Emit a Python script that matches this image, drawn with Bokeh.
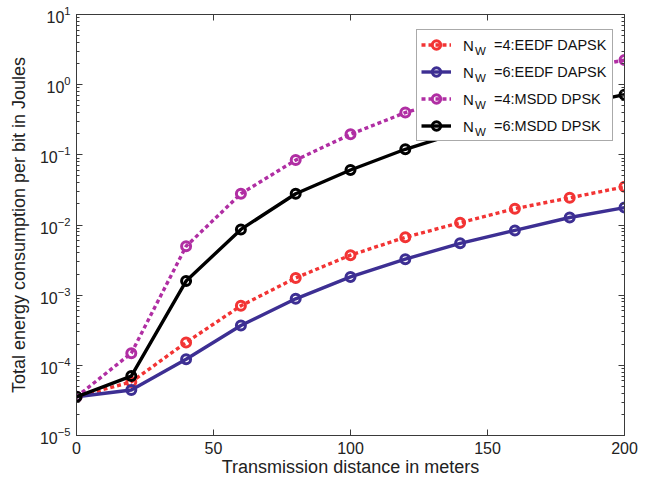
from bokeh.plotting import figure
from bokeh.models import (Range1d, LogAxis, LinearAxis, FixedTicker, Legend, LegendItem,
                          CustomJSTickFormatter)
from bokeh.embed import file_html
from bokeh.resources import INLINE

# ---------------- data ----------------
distance = [0, 20, 40, 60, 80, 100, 120, 140, 160, 180, 200]
eedf_nw4 = [3.56e-5, 5.8e-5, 2.12e-4, 7.06e-4, 1.76e-3, 3.72e-3, 6.67e-3, 1.08e-2, 1.71e-2, 2.44e-2, 3.5e-2]
eedf_nw6 = [3.56e-5, 4.46e-5, 1.22e-4, 3.69e-4, 8.87e-4, 1.82e-3, 3.26e-3, 5.48e-3, 8.36e-3, 1.28e-2, 1.77e-2]
msdd_nw4 = [3.56e-5, 1.49e-4, 4.98e-3, 2.79e-2, 8.41e-2, 0.196, 0.40, 0.68, 1.08, 1.6, 2.24]
msdd_nw6 = [3.56e-5, 7.03e-5, 1.59e-3, 8.65e-3, 2.79e-2, 6.08e-2, 0.120, 0.21, 0.33, 0.50, 0.72]

series_n = ["N", "N", "N", "N"]
series_sub = ["W", "W", "W", "W"]
series_rest = ["=4:EEDF DAPSK", "=6:EEDF DAPSK", "=4:MSDD DPSK", "=6:MSDD DPSK"]

x_ticks = [0, 50, 100, 150, 200]
y_major = [1e-5, 1e-4, 1e-3, 1e-2, 1e-1, 1e0, 1e1]
y_minor = [m * 10.0 ** e for e in range(-5, 1) for m in range(2, 10)]

FONT = "Liberation Sans"
AXC = "#3a3a3a"

W, H = 638, 479
BL, BR, BT, BB = 76, 14, 14, 44
p = figure(width=W, height=H, output_backend="svg", toolbar_location=None,
           x_range=Range1d(0, 200), y_range=Range1d(1e-5, 10), y_axis_type="log",
           min_border_left=BL, min_border_right=BR, min_border_top=BT, min_border_bottom=BB)
p.xgrid.visible = False
p.ygrid.visible = False
p.outline_line_color = AXC
p.outline_line_width = 1
p.background_fill_color = "white"
p.border_fill_color = "white"

def style_axis(ax, labels=True):
    ax.axis_line_color = AXC
    ax.major_tick_line_color = AXC
    ax.minor_tick_line_color = AXC
    ax.major_tick_in = 6
    ax.major_tick_out = 0
    ax.minor_tick_in = 3
    ax.minor_tick_out = 0
    if labels:
        ax.major_label_text_font = FONT
        ax.major_label_text_font_size = "16px"
        ax.major_label_text_color = "#222222"
        ax.axis_label_text_font = FONT
        ax.axis_label_text_font_style = "normal"
        ax.axis_label_text_font_size = "18px"
        ax.axis_label_text_color = "#222222"
    else:
        ax.formatter = CustomJSTickFormatter(code="return ''")
        ax.major_label_standoff = 0

p.xaxis.ticker = FixedTicker(ticks=x_ticks)
p.yaxis.ticker = FixedTicker(ticks=y_major, minor_ticks=y_minor)
style_axis(p.xaxis[0])
style_axis(p.yaxis[0])
p.xaxis.axis_label = "Transmission distance in meters"
p.yaxis.axis_label = "Total energy consumption per bit in Joules"
p.xaxis.major_label_standoff = 6
p.xaxis.axis_label_standoff = 0
p.yaxis.major_label_standoff = 6
p.yaxis.axis_label_standoff = 8

top = LinearAxis(ticker=FixedTicker(ticks=x_ticks))
style_axis(top, labels=False)
p.add_layout(top, "above")
right = LogAxis(ticker=FixedTicker(ticks=y_major, minor_ticks=y_minor))
style_axis(right, labels=False)
p.add_layout(right, "right")

specs = [
    (eedf_nw4, "#f23434", "4 3"),
    (eedf_nw6, "#3d2f93", "solid"),
    (msdd_nw4, "#b02ea3", "4 3"),
    (msdd_nw6, "#000000", "solid"),
]
items = []
for (vals, col, dash), rest in zip(specs, series_rest):
    ln = p.line(distance, vals, line_color=col, line_width=3.4, line_dash=dash)
    sc = p.scatter(distance, vals, marker="circle", size=9, fill_color=None,
                   line_color=col, line_width=3)
    items.append(LegendItem(label=rest, renderers=[ln, sc]))

# invisible renderer used only to carry the text-only legend columns
ghost = p.line(distance, eedf_nw4, line_alpha=0)

frame_h = H - BT - BB
legend = Legend(items=items, location=(340, frame_h - 17 - 110), orientation="vertical",
                padding=4, spacing=6, margin=0, glyph_width=30, glyph_height=21,
                label_height=21, label_width=114, label_standoff=43,
                label_text_font=FONT, label_text_font_size="14.5px",
                label_text_color="#111111",
                border_line_color="#555555", border_line_width=1,
                background_fill_color="white", background_fill_alpha=1.0)
p.add_layout(legend, "center")

def text_column(texts, x, y_top, size):
    lg = Legend(items=[LegendItem(label=t, renderers=[ghost]) for t in texts],
                location=(x, frame_h - y_top - 102), orientation="vertical",
                padding=0, spacing=6, margin=0, glyph_width=0, glyph_height=21,
                label_height=21, label_width=5, label_standoff=0,
                label_text_font=FONT, label_text_font_size=size,
                label_text_color="#111111",
                border_line_alpha=0, background_fill_alpha=0)
    p.add_layout(lg, "center")

# subscripted N_W parts of the legend labels
text_column(series_n, 387, 21, "15px")
text_column(series_sub, 399, 26, "11.5px")

open("out.html", "w").write(file_html(p, INLINE))
